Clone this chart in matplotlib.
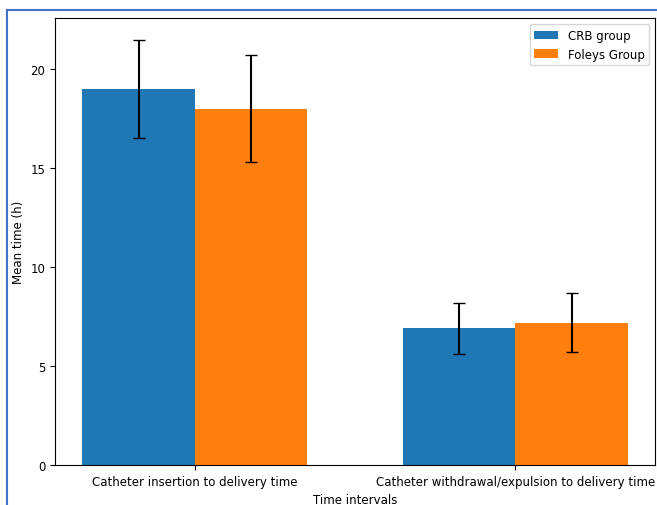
import numpy as np
import matplotlib
matplotlib.use("Agg")
import matplotlib.pyplot as plt
from matplotlib.lines import Line2D

categories = ["Catheter insertion to delivery time", "Catheter withdrawal/expulsion to delivery time"]
crb_mean = [19.0, 6.9]
crb_err = [2.5, 1.3]
foley_mean = [18.0, 7.2]
foley_err = [2.7, 1.5]

plt.rcParams["font.size"] = 8.5

fig = plt.figure(figsize=(6.57, 5.06), dpi=100)
ax = fig.add_axes([0.084, 0.079, 0.913, 0.883])

x = np.arange(len(categories))
w = 0.35
ax.bar(x - w / 2, crb_mean, w, yerr=crb_err, capsize=4.5, label="CRB group")
ax.bar(x + w / 2, foley_mean, w, yerr=foley_err, capsize=4.5, label="Foleys Group")
ax.set_xticks(x)
ax.set_xticklabels(categories)
ax.set_xlabel("Time intervals")
ax.set_ylabel("Mean time (h)")
ax.legend()

# blue frame around the screenshot
fig.add_artist(Line2D([6.5 / 657, 6.5 / 657], [0, 1 - 10.5 / 506], color="#4472C4", lw=1.5, transform=fig.transFigure))
fig.add_artist(Line2D([6.5 / 657, 1], [1 - 10.5 / 506, 1 - 10.5 / 506], color="#4472C4", lw=1.5, transform=fig.transFigure))

fig.savefig("out.png", dpi=100)
